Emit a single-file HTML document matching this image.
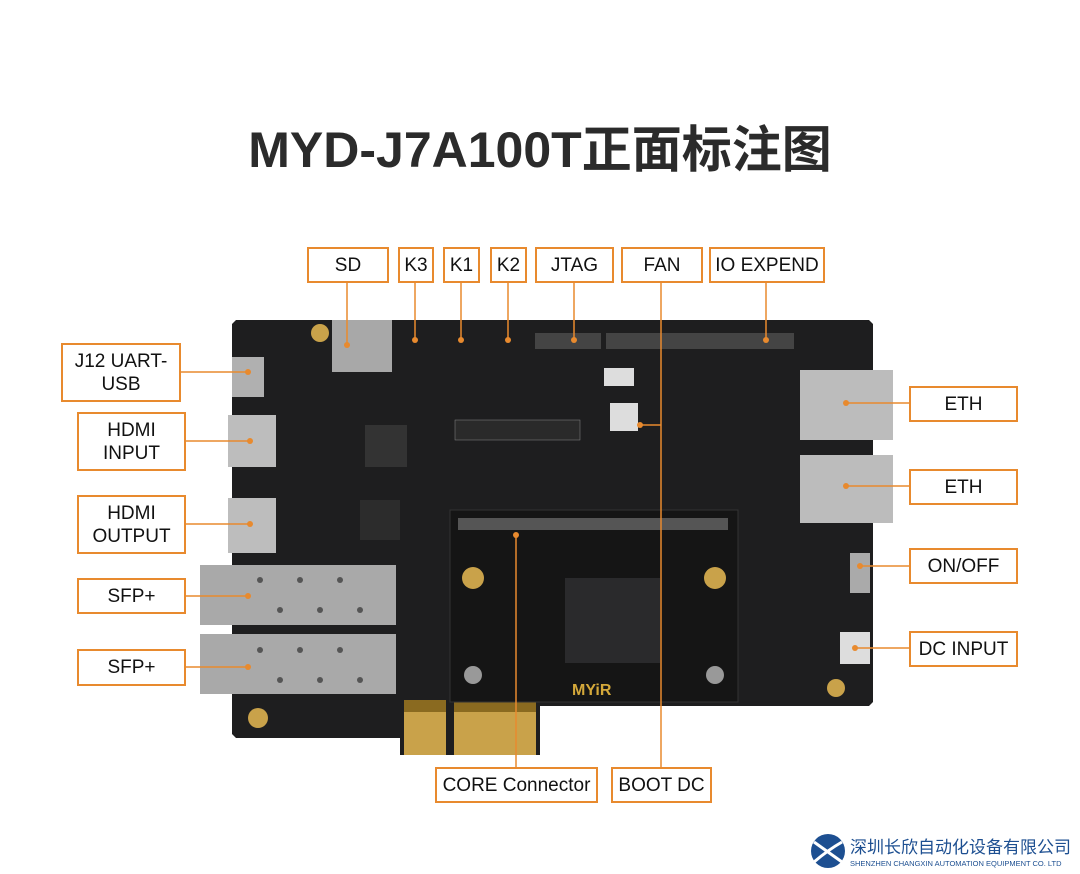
<!DOCTYPE html>
<html><head><meta charset="utf-8"><style>
body{margin:0;width:1080px;height:874px;background:#fff;position:relative;overflow:hidden;font-family:"Liberation Sans","Noto Sans CJK SC",sans-serif}
.t{position:absolute;left:0;width:1080px;top:110px;text-align:center;font-size:50px;font-weight:bold;color:#2b2b2b;letter-spacing:0px}
.b{position:absolute;border:2px solid #e88a2e;background:#fff;box-sizing:border-box;display:flex;align-items:center;justify-content:center;text-align:center;font-size:19px;color:#111;line-height:23px}
svg{position:absolute;left:0;top:0}
</style></head><body>
<div class="t">MYD-J7A100T正面标注图</div>
<svg width="1080" height="874">
<polygon points="236,320 869,320 873,324 873,702 869,706 540,706 540,755 400,755 400,738 236,738 232,734 232,324" fill="#1e1e1f"/>
<rect x="404" y="700" width="42" height="55" fill="#c9a24a"/>
<rect x="454" y="700" width="82" height="55" fill="#c9a24a"/>
<rect x="404" y="700" width="132" height="12" fill="#8a6a20"/>
<rect x="446" y="700" width="8" height="12" fill="#1e1e1f"/>
<!-- core module -->
<rect x="450" y="510" width="288" height="192" fill="#151515" stroke="#333"/>
<rect x="565" y="578" width="95" height="85" fill="#2a2a2c"/>
<rect x="458" y="518" width="270" height="12" fill="#555"/>
<circle cx="473" cy="578" r="11" fill="#c9a24a"/><circle cx="715" cy="578" r="11" fill="#c9a24a"/>
<circle cx="473" cy="675" r="9" fill="#999"/><circle cx="715" cy="675" r="9" fill="#999"/>
<text x="572" y="695" fill="#d4a83a" font-size="16" font-weight="bold" font-family="Liberation Sans">MYiR</text>
<rect x="332" y="320" width="60" height="52" fill="#a8a8a8"/>
<rect x="232" y="357" width="32" height="40" fill="#b0b0b0"/>
<rect x="228" y="415" width="48" height="52" fill="#bdbdbd"/>
<rect x="228" y="498" width="48" height="55" fill="#bdbdbd"/>
<rect x="200" y="565" width="196" height="60" fill="#a9a9a9"/>
<rect x="200" y="634" width="196" height="60" fill="#a9a9a9"/>
<g fill="#555"><circle cx="260" cy="580" r="3"/><circle cx="300" cy="580" r="3"/><circle cx="340" cy="580" r="3"/><circle cx="280" cy="610" r="3"/><circle cx="320" cy="610" r="3"/><circle cx="360" cy="610" r="3"/><circle cx="260" cy="650" r="3"/><circle cx="300" cy="650" r="3"/><circle cx="340" cy="650" r="3"/><circle cx="280" cy="680" r="3"/><circle cx="320" cy="680" r="3"/><circle cx="360" cy="680" r="3"/></g>
<rect x="800" y="370" width="93" height="70" fill="#bcbcbc"/>
<rect x="800" y="455" width="93" height="68" fill="#bcbcbc"/>
<rect x="365" y="425" width="42" height="42" fill="#333"/>
<rect x="360" y="500" width="40" height="40" fill="#2c2c2c"/>
<rect x="535" y="333" width="66" height="16" fill="#444"/>
<rect x="606" y="333" width="188" height="16" fill="#444"/>
<rect x="604" y="368" width="30" height="18" fill="#ddd"/>
<rect x="610" y="403" width="28" height="28" fill="#ddd"/>
<rect x="850" y="553" width="20" height="40" fill="#aaa"/>
<rect x="840" y="632" width="30" height="32" fill="#ddd"/>
<circle cx="258" cy="718" r="10" fill="#c9a24a"/>
<circle cx="320" cy="333" r="9" fill="#c9a24a"/><circle cx="836" cy="688" r="9" fill="#c9a24a"/>
<rect x="455" y="420" width="125" height="20" fill="#2a2a2a" stroke="#888" stroke-width="0.5"/>
<g stroke="#e88a2e" stroke-width="1.5" fill="none">
<path d="M347,282V345M415,282V340M461,282V340M508,282V340M574,282V340M661,282V770M766,282V340M180,372H248M185,441H250M185,524H250M185,596H248M185,667H248M909,403H846M909,486H846M909,566H860M909,648H855M516,767V535M661,425H640"/>
</g>
<g fill="#e88a2e"><circle cx="347" cy="345" r="3"/><circle cx="415" cy="340" r="3"/><circle cx="461" cy="340" r="3"/><circle cx="508" cy="340" r="3"/><circle cx="574" cy="340" r="3"/><circle cx="766" cy="340" r="3"/><circle cx="248" cy="372" r="3"/><circle cx="250" cy="441" r="3"/><circle cx="250" cy="524" r="3"/><circle cx="248" cy="596" r="3"/><circle cx="248" cy="667" r="3"/><circle cx="846" cy="403" r="3"/><circle cx="846" cy="486" r="3"/><circle cx="860" cy="566" r="3"/><circle cx="855" cy="648" r="3"/><circle cx="516" cy="535" r="3"/><circle cx="640" cy="425" r="3"/></g>
<circle cx="828" cy="851" r="17" fill="#1d4f91"/>
<path d="M814,842 Q828,852 842,862 M814,862 Q828,850 842,842" stroke="#fff" stroke-width="3" fill="none"/>
<text x="850" y="853" font-size="17" fill="#1d4f91" font-family="Noto Sans CJK SC">深圳长欣自动化设备有限公司</text>
<text x="850" y="866" font-size="7.5" fill="#1d4f91" font-family="Liberation Sans">SHENZHEN CHANGXIN AUTOMATION EQUIPMENT CO. LTD</text>
</svg>
<div class="b" style="left:307px;top:247px;width:82px;height:36px">SD</div>
<div class="b" style="left:398px;top:247px;width:36px;height:36px">K3</div>
<div class="b" style="left:443px;top:247px;width:37px;height:36px">K1</div>
<div class="b" style="left:490px;top:247px;width:37px;height:36px">K2</div>
<div class="b" style="left:535px;top:247px;width:79px;height:36px">JTAG</div>
<div class="b" style="left:621px;top:247px;width:82px;height:36px">FAN</div>
<div class="b" style="left:709px;top:247px;width:116px;height:36px">IO EXPEND</div>
<div class="b" style="left:61px;top:343px;width:120px;height:59px">J12 UART-<br>USB</div>
<div class="b" style="left:77px;top:412px;width:109px;height:59px">HDMI<br>INPUT</div>
<div class="b" style="left:77px;top:495px;width:109px;height:59px">HDMI<br>OUTPUT</div>
<div class="b" style="left:77px;top:578px;width:109px;height:36px">SFP+</div>
<div class="b" style="left:77px;top:649px;width:109px;height:37px">SFP+</div>
<div class="b" style="left:909px;top:386px;width:109px;height:36px">ETH</div>
<div class="b" style="left:909px;top:469px;width:109px;height:36px">ETH</div>
<div class="b" style="left:909px;top:548px;width:109px;height:36px">ON/OFF</div>
<div class="b" style="left:909px;top:631px;width:109px;height:36px">DC INPUT</div>
<div class="b" style="left:435px;top:767px;width:163px;height:36px">CORE Connector</div>
<div class="b" style="left:611px;top:767px;width:101px;height:36px">BOOT DC</div>
</body></html>
